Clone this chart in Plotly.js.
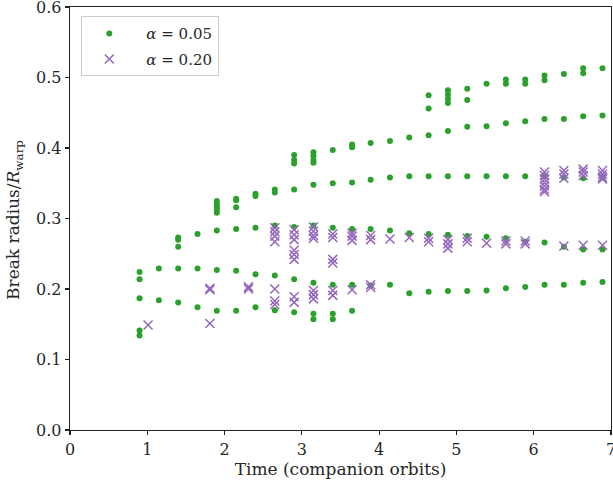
<!DOCTYPE html>
<html>
<head>
<meta charset="utf-8">
<script src="https://cdn.plot.ly/plotly-3.0.1.min.js"></script>
<style>html,body{margin:0;padding:0;background:#fff;}#chart{width:613px;height:491px;}</style>
</head>
<body>
<div id="chart"></div>
<script>
// alpha = 0.05 (green dots): time (companion orbits) and break radius / R_warp
const timeA05 = [
  0.90,0.90,0.90,0.90,0.90,
  1.15,1.15,
  1.40,1.40,1.40,1.40,1.40,
  1.65,1.65,1.65,
  1.90,1.90,1.90,1.90,1.90,1.90,1.90,1.90,
  2.15,2.15,2.15,2.15,2.15,2.15,
  2.40,2.40,2.40,2.40,2.40,
  2.65,2.65,2.65,2.65,2.65,
  2.90,2.90,2.90,2.90,2.90,2.90,2.90,
  3.15,3.15,3.15,3.15,3.15,3.15,3.15,3.15,3.15,
  3.40,3.40,3.40,3.40,3.40,3.40,
  3.65,3.65,3.65,3.65,3.65,3.65,
  3.89,3.89,3.89,3.89,
  4.14,4.14,4.14,4.14,
  4.39,4.39,4.39,4.39,
  4.64,4.64,4.64,4.64,4.64,4.64,
  4.89,4.89,4.89,4.89,4.89,4.89,4.89,4.89,
  5.14,5.14,5.14,5.14,5.14,5.14,
  5.39,5.39,5.39,5.39,5.39,
  5.64,5.64,5.64,5.64,5.64,5.64,
  5.89,5.89,5.89,5.89,5.89,5.89,
  6.14,6.14,6.14,6.14,6.14,6.14,
  6.39,6.39,6.39,6.39,6.39,
  6.64,6.64,6.64,6.64,6.64,6.64,
  6.89,6.89,6.89,6.89,6.89
];
const radiusA05 = [
  0.224,0.214,0.187,0.141,0.134,
  0.229,0.184,
  0.273,0.270,0.260,0.229,0.181,
  0.278,0.229,0.174,
  0.325,0.320,0.316,0.312,0.308,0.283,0.227,0.169,
  0.328,0.326,0.316,0.285,0.226,0.169,
  0.335,0.332,0.287,0.221,0.174,
  0.341,0.337,0.290,0.219,0.170,
  0.390,0.383,0.378,0.341,0.288,0.214,0.167,
  0.394,0.389,0.383,0.379,0.348,0.290,0.209,0.165,0.157,
  0.397,0.350,0.287,0.206,0.165,0.157,
  0.405,0.401,0.351,0.285,0.206,0.169,
  0.407,0.355,0.285,0.205,
  0.410,0.358,0.283,0.206,
  0.415,0.360,0.279,0.194,
  0.475,0.456,0.418,0.360,0.278,0.196,
  0.482,0.476,0.470,0.464,0.424,0.360,0.277,0.197,
  0.484,0.468,0.430,0.360,0.275,0.197,
  0.491,0.431,0.360,0.274,0.198,
  0.497,0.491,0.435,0.360,0.272,0.201,
  0.497,0.491,0.438,0.360,0.267,0.203,
  0.503,0.496,0.441,0.360,0.266,0.206,
  0.505,0.441,0.358,0.260,0.206,
  0.513,0.506,0.445,0.357,0.256,0.209,
  0.513,0.446,0.358,0.256,0.210
];
// alpha = 0.20 (purple crosses)
const timeA20 = [
  1.01,
  1.81,1.81,1.81,
  2.31,2.31,
  2.65,2.65,2.65,2.65,2.65,2.65,2.65,
  2.90,2.90,2.90,2.90,2.90,2.90,2.90,2.90,
  3.15,3.15,3.15,3.15,3.15,3.15,3.15,
  3.40,3.40,3.40,3.40,3.40,3.40,
  3.65,3.65,3.65,3.65,
  3.89,3.89,3.89,3.89,
  4.14,
  4.39,
  4.64,4.64,
  4.89,4.89,4.89,
  5.14,5.14,
  5.39,
  5.64,5.64,
  5.89,5.89,
  6.14,6.14,6.14,6.14,6.14,6.14,6.14,
  6.39,6.39,6.39,6.39,
  6.64,6.64,6.64,6.64,
  6.89,6.89,6.89,6.89,6.89
];
const radiusA20 = [
  0.149,
  0.201,0.199,0.151,
  0.203,0.200,
  0.287,0.281,0.275,0.267,0.200,0.183,0.178,
  0.284,0.277,0.270,0.255,0.249,0.242,0.189,0.181,
  0.288,0.282,0.276,0.272,0.198,0.192,0.186,
  0.278,0.273,0.242,0.237,0.198,0.191,
  0.279,0.275,0.269,0.199,
  0.276,0.270,0.206,0.202,
  0.271,
  0.273,
  0.272,0.267,
  0.270,0.264,0.258,
  0.272,0.267,
  0.265,
  0.268,0.264,
  0.268,0.264,
  0.366,0.361,0.356,0.351,0.346,0.341,0.338,
  0.368,0.363,0.357,0.261,
  0.370,0.366,0.361,0.262,
  0.368,0.363,0.359,0.356,0.262
];
const seriesNames = ['\u00a0\u00a0<i>α</i> = 0.05', '\u00a0\u00a0<i>α</i> = 0.20'];
const xTicks = [0,1,2,3,4,5,6,7];
const yTicks = [0,0.1,0.2,0.3,0.4,0.5,0.6];

const FONT = 'DejaVu Serif, Liberation Serif, serif';
const traces = [
  {
    x: timeA05, y: radiusA05, type: 'scatter', mode: 'markers', name: seriesNames[0],
    legendgroup: 'a',
    marker: {color: '#2ca02c', size: 6, symbol: 'circle', line: {width: 0}}
  },
  {
    x: timeA20, y: radiusA20, type: 'scatter', mode: 'markers', name: seriesNames[1],
    legendgroup: 'b',
    marker: {color: '#9467bd', size: 9, symbol: 'x-thin', line: {color: '#9467bd', width: 1.5}}
  }
];
const axisCommon = {
  showline: true, linecolor: '#222', linewidth: 1.3, mirror: true,
  ticks: 'outside', ticklen: 4, tickwidth: 1.2, tickcolor: '#222',
  showgrid: false, zeroline: false, ticklabeloverflow: 'allow',
  tickfont: {family: FONT, size: 16, color: '#262626'}
};
const layout = {
  width: 613, height: 491,
  margin: {l: 70, r: 2, t: 7, b: 61},
  paper_bgcolor: '#fff', plot_bgcolor: '#fff',
  showlegend: true,
  xaxis: Object.assign({}, axisCommon, {
    range: [0, 7], tickvals: xTicks, ticktext: xTicks.map(String),
    title: {text: 'Time (companion orbits)', font: {family: FONT, size: 17, color: '#262626'}, standoff: 5}
  }),
  yaxis: Object.assign({}, axisCommon, {
    range: [0, 0.6], tickvals: yTicks, ticktext: yTicks.map(v => v.toFixed(1))
  }),
  annotations: [{
    text: 'Break radius/<i>R</i><sub>warp</sub>',
    xref: 'paper', yref: 'paper', x: -0.1017, y: 0.4965,
    xanchor: 'center', yanchor: 'middle', textangle: -90, showarrow: false,
    font: {family: FONT, size: 17, color: '#262626'}
  }],
  legend: {
    x: 0.02, y: 0.978, xanchor: 'left', yanchor: 'top',
    bgcolor: 'rgba(255,255,255,0.8)', bordercolor: '#cccccc', borderwidth: 1,
    font: {family: FONT, size: 15, color: '#262626'},
    tracegroupgap: 3, itemwidth: 45
  }
};
Plotly.newPlot('chart', traces, layout, {displayModeBar: false, staticPlot: true});
</script>
</body>
</html>
